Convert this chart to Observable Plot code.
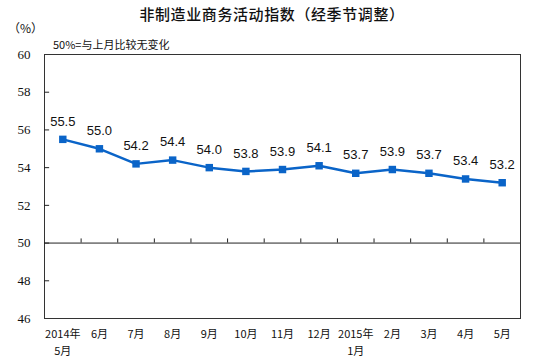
<!DOCTYPE html>
<html><head><meta charset="utf-8">
<script src="https://cdn.jsdelivr.net/npm/d3@7"></script>
<script src="https://cdn.jsdelivr.net/npm/@observablehq/plot@0.6"></script>
<style>
body{margin:0;background:#fff;}
#wrap{position:relative;width:534px;height:362px;overflow:hidden;font-family:"Noto Sans CJK SC",sans-serif;color:#111;}
#title{position:absolute;left:0;width:544px;top:3px;text-align:center;font-size:15px;font-weight:500;letter-spacing:0.6px;}
#unit{position:absolute;left:8px;top:19px;font-size:12px;}
#sub{position:absolute;left:53px;top:36px;font-size:11px;}
#chart{position:absolute;left:0;top:0;}
</style></head>
<body>
<div id="wrap">
<div id="chart"></div>
<div id="title">非制造业商务活动指数（经季节调整）</div>
<div id="unit">（%）</div>
<div id="sub">50%=与上月比较无变化</div>
</div>
<script>
const months = ["2014年\n5月","6月","7月","8月","9月","10月","11月","12月","2015年\n1月","2月","3月","4月","5月"];
const values = [55.5,55.0,54.2,54.4,54.0,53.8,53.9,54.1,53.7,53.9,53.7,53.4,53.2];
const yTicks = [46,48,50,52,54,56,58,60];
const boundaries = [1.5,2.5,3.5,4.5,5.5,6.5,7.5,8.5,9.5,10.5,11.5,12.5];

const data = values.map((v,i)=>({i:i+1, v, label:months[i]}));
const blue = "#0a64c8";

const chart = Plot.plot({
  width:534, height:362,
  marginTop:54, marginBottom:44, marginLeft:44, marginRight:14,
  style:{background:"transparent"},
  x:{domain:[0.5,13.5], axis:null},
  y:{domain:[46,60], axis:null},
  marks:[
    Plot.frame({stroke:"#333", strokeWidth:1}),
    Plot.ruleY([50],{stroke:"#222", strokeWidth:1}),
    Plot.ruleX(boundaries,{y1:50, y2:50.22, stroke:"#222", strokeWidth:1}),
    Plot.ruleY(yTicks.filter(d=>d>46&&d<60),{x1:0.5, x2:0.64, stroke:"#222", strokeWidth:1}),
    Plot.text(yTicks,{x:0.5, y:d=>d, text:d=>String(d), textAnchor:"end", dx:-14, fontSize:13, fontFamily:"Liberation Serif", fill:"#111"}),
    Plot.text(data,{x:"i", y:46, text:"label", dy:8, lineAnchor:"top", lineHeight:1.5, fontSize:11, fontFamily:"Noto Sans CJK SC", fill:"#111"}),
    Plot.line(data,{x:"i", y:"v", stroke:blue, strokeWidth:2.5}),
    Plot.dot(data,{x:"i", y:"v", symbol:"square", r:4.2, fill:blue, stroke:"none"}),
    Plot.text(data,{x:"i", y:"v", text:d=>d.v.toFixed(1), dy:-18, fontSize:13, fontFamily:"Liberation Sans", fill:"#111"})
  ]
});
document.getElementById("chart").appendChild(chart);
</script>
</body></html>
